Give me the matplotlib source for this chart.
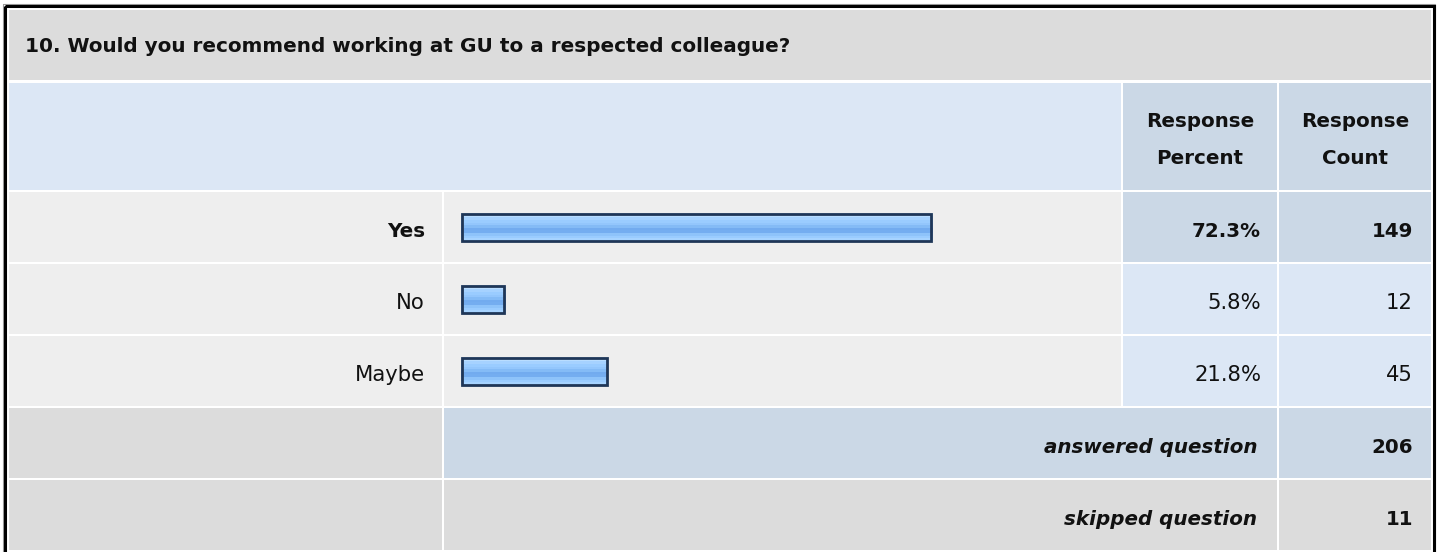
import numpy as np
import matplotlib
matplotlib.use("Agg")
import matplotlib.pyplot as plt
from matplotlib.patches import Rectangle
from matplotlib.colors import to_rgb

# Datos de la pregunta
question = "10. Would you recommend working at GU to a respected colleague?"
answers = ["Yes", "No", "Maybe"]
percents = [72.3, 5.8, 21.8]
counts = [149, 12, 45]
answered = 206
skipped = 11
col_headers = [("Response", "Percent"), ("Response", "Count")]

plt.rcParams['font.family'] = ['DejaVu Sans']

# Colores
GRAY = "#dcdcdc"
ROW = "#eeeeee"
BLUE_LT = "#dce7f5"
BLUE_DK = "#cbd8e6"
NAVY = "#1f3657"
INK = "#111111"
FS_B = 14.3   # negrita
FS_R = 15.2   # normal

fig = plt.figure(figsize=(14.4, 5.52), dpi=100)
ax = fig.add_axes([0, 0, 1, 1])
ax.set_xlim(0, 1440)
ax.set_ylim(552, 0)
ax.axis("off")

# Columnas (px)
x0, x_lab, x_bar, x_pct, x_cnt, x1 = 9, 442, 444, 1123, 1279, 1431


def cell(xa, xb, ya, yb, color):
    ax.add_patch(Rectangle((xa, ya), xb - xa, yb - ya, facecolor=color, edgecolor="none"))


def label(x, y, s, bold=False, italic=False, ha="right"):
    ax.text(x, y, s, fontsize=FS_B if bold else FS_R, fontweight="bold" if bold else "normal",
            style="italic" if italic else "normal", ha=ha, va="baseline", color=INK)


# Marco exterior
ax.add_patch(Rectangle((3, 4), 1432, 560, facecolor="none", edgecolor="#9a9a9a", lw=0.8))
ax.add_patch(Rectangle((4.5, 6), 1429, 560, facecolor="none", edgecolor="black", lw=2.2))

# Titulo
cell(x0, x1, 10, 80, GRAY)
ax.text(25, 52, question, fontsize=14.4, fontweight="bold", ha="left", va="baseline", color=INK)

# Cabecera
cell(x0, x_pct - 2, 83, 190, BLUE_LT)
cell(x_pct, x_cnt - 2, 83, 190, BLUE_DK)
cell(x_cnt, x1, 83, 190, BLUE_DK)
for (xa, xb), (l1, l2) in zip([(x_pct, x_cnt - 2), (x_cnt, x1)], col_headers):
    label((xa + xb) / 2, 127, l1, bold=True, ha="center")
    label((xa + xb) / 2, 164, l2, bold=True, ha="center")

# Degradado de las barras
grad_cols = ["#cde7ff", "#b9ddff", "#a6d2ff", "#9accff", "#93c6fc", "#84bbf6",
             "#72abef", "#74adf0", "#8ec3fa", "#9accff", "#a6d3ff"]
grad = np.array([to_rgb(c) for c in grad_cols]).reshape(-1, 1, 3)

best = int(np.argmax(counts))
row_top = 192
row_h = 70
for i, (ans, p, c) in enumerate(zip(answers, percents, counts)):
    ya = row_top + i * (row_h + 2)
    yb = ya + row_h
    yc = (ya + yb) / 2
    hi = i == best
    cell(x0, x_lab, ya, yb, ROW)
    cell(x_bar, x_pct - 2, ya, yb, ROW)
    cell(x_pct, x_cnt - 2, ya, yb, BLUE_DK if hi else BLUE_LT)
    cell(x_cnt, x1, ya, yb, BLUE_DK if hi else BLUE_LT)
    label(x_lab - 17, ya + 45, ans, bold=hi)
    label(x_cnt - 18, ya + 45, f"{p:.1f}%", bold=hi)
    label(x1 - 18, ya + 45, f"{c}", bold=hi)

    # barra con degradado
    w = p * 6.42 + 7
    bars = ax.barh([yc], [w], left=461, height=29, color="none", edgecolor="none")
    r = bars.patches[0]
    im = ax.imshow(grad, extent=(461, 461 + w, yc + 14.5, yc - 14.5), aspect="auto",
                   interpolation="nearest", zorder=2)
    im.set_clip_path(r)
    ax.add_patch(Rectangle((462, yc - 13.5), w - 2, 27, facecolor="none", edgecolor=NAVY,
                           lw=2.0, zorder=3))

# Filas de resumen
ya = row_top + 3 * (row_h + 2)
summary = [("answered question", answered, BLUE_DK), ("skipped question", skipped, GRAY)]
for j, (lab, val, col) in enumerate(summary):
    a = ya + j * (row_h + 2)
    b = a + row_h
    cell(x0, x_lab, a, b, GRAY)
    cell(x_bar, x_cnt - 2, a, b, col)
    cell(x_cnt, x1, a, b, col)
    label(x_cnt - 22, a + 45, lab, bold=True, italic=True)
    label(x1 - 18, a + 45, f"{val}", bold=True)

fig.savefig("out.png", dpi=100, facecolor="white")
